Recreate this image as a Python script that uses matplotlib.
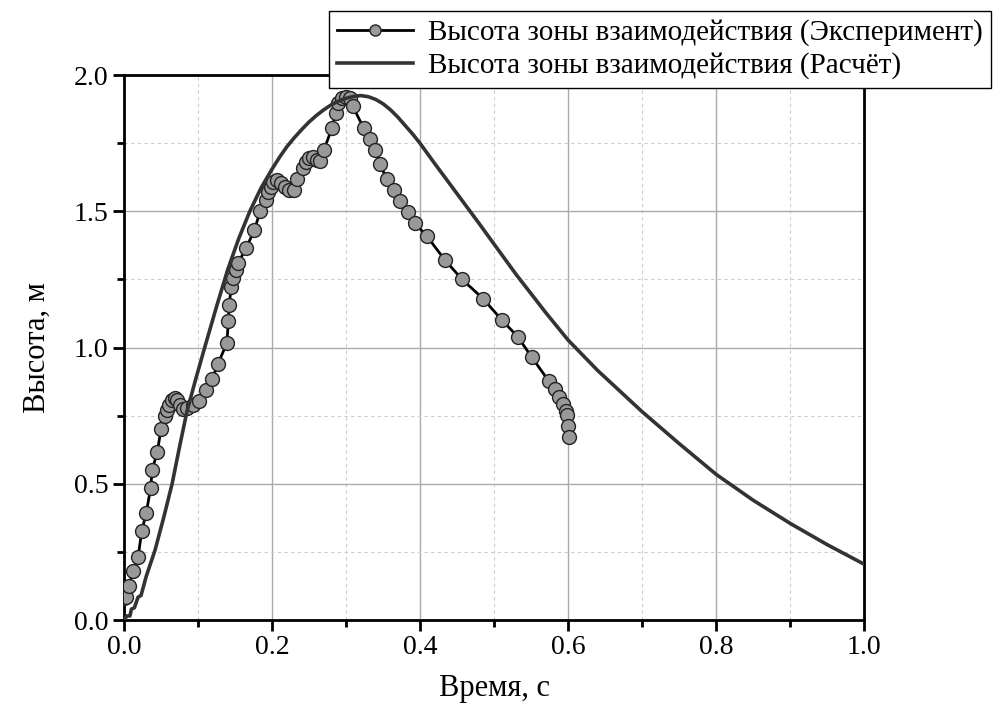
import numpy as np
import matplotlib
matplotlib.use("Agg")
from matplotlib import pyplot as plt
from matplotlib.ticker import MultipleLocator

plt.rcParams['font.family'] = ['Liberation Serif', 'DejaVu Serif']

# experiment: time, height
t_exp = [0.0, 0.003, 0.007, 0.012, 0.019, 0.024, 0.030, 0.036, 0.038, 0.045,
         0.050, 0.055, 0.058, 0.061, 0.065, 0.069, 0.072, 0.076, 0.080, 0.085,
         0.093, 0.101, 0.111, 0.119, 0.127, 0.139, 0.141, 0.142, 0.145, 0.147,
         0.151, 0.154, 0.165, 0.176, 0.184, 0.192, 0.195, 0.199, 0.201, 0.207,
         0.212, 0.218, 0.223, 0.230, 0.234, 0.242, 0.246, 0.250, 0.255, 0.261,
         0.265, 0.270, 0.281, 0.286, 0.289, 0.295, 0.300, 0.305, 0.309, 0.324,
         0.332, 0.339, 0.346, 0.355, 0.365, 0.373, 0.384, 0.393, 0.409, 0.434,
         0.457, 0.485, 0.511, 0.532, 0.551, 0.574, 0.582, 0.588, 0.593, 0.597,
         0.599, 0.600, 0.601]
h_exp = [0.08, 0.084, 0.125, 0.18, 0.23, 0.327, 0.393, 0.484, 0.55, 0.617,
         0.70, 0.749, 0.77, 0.79, 0.807, 0.815, 0.807, 0.79, 0.774, 0.778,
         0.79, 0.804, 0.844, 0.884, 0.94, 1.017, 1.097, 1.156, 1.222, 1.255,
         1.284, 1.31, 1.365, 1.43, 1.50, 1.54, 1.57, 1.59, 1.607, 1.615,
         1.604, 1.59, 1.578, 1.578, 1.618, 1.66, 1.68, 1.695, 1.70, 1.688,
         1.684, 1.725, 1.805, 1.86, 1.897, 1.916, 1.92, 1.916, 1.886, 1.805,
         1.765, 1.725, 1.673, 1.618, 1.578, 1.538, 1.497, 1.457, 1.41, 1.32,
         1.25, 1.18, 1.10, 1.04, 0.965, 0.877, 0.848, 0.818, 0.793, 0.767,
         0.752, 0.712, 0.672]

# calculation
t_calc = [0.0, 0.004, 0.008, 0.010, 0.014, 0.019, 0.023, 0.030, 0.042, 0.054,
          0.065, 0.075, 0.085, 0.097, 0.109, 0.125, 0.14, 0.155, 0.17, 0.185,
          0.2, 0.21, 0.22, 0.23, 0.24, 0.25, 0.26, 0.27, 0.28, 0.29,
          0.30, 0.31, 0.32, 0.33, 0.34, 0.35, 0.36, 0.37, 0.38, 0.39,
          0.40, 0.42, 0.45, 0.48, 0.5, 0.53, 0.57, 0.6, 0.64, 0.7,
          0.75, 0.8, 0.85, 0.9, 0.95, 1.0]
h_calc = [0.0, 0.015, 0.015, 0.04, 0.045, 0.084, 0.09, 0.16, 0.257, 0.38,
          0.50, 0.635, 0.765, 0.885, 1.0, 1.15, 1.285, 1.40, 1.50, 1.585,
          1.655, 1.698, 1.737, 1.77, 1.80, 1.828, 1.852, 1.873, 1.891, 1.905,
          1.915, 1.922, 1.925, 1.921, 1.911, 1.895, 1.873, 1.846, 1.815, 1.784,
          1.75, 1.675, 1.565, 1.455, 1.38, 1.268, 1.128, 1.028, 0.916, 0.765,
          0.648, 0.535, 0.44, 0.355, 0.277, 0.205]

fig = plt.figure(figsize=(9.96, 7.09), dpi=100)
ax = fig.add_axes([0.1245, 0.1255, 0.743, 0.7685])

ax.plot(t_exp, h_exp, color='black', lw=2.0, marker='o', ms=10,
        mfc='#999999', mec='#222222', mew=1.0,
        label='Высота зоны взаимодействия (Эксперимент)', zorder=3)
ax.plot(t_calc, h_calc, color='#333333', lw=2.6,
        label='Высота зоны взаимодействия (Расчёт)', zorder=4)

ax.set_xlim(0, 1.0)
ax.set_ylim(0, 2.0)
ax.xaxis.set_major_locator(MultipleLocator(0.2))
ax.xaxis.set_minor_locator(MultipleLocator(0.1))
ax.yaxis.set_major_locator(MultipleLocator(0.5))
ax.yaxis.set_minor_locator(MultipleLocator(0.25))
ax.xaxis.set_major_formatter(plt.FormatStrFormatter('%.1f'))
ax.yaxis.set_major_formatter(plt.FormatStrFormatter('%.1f'))

ax.grid(which='major', color='#aaaaaa', lw=1.0, ls='-')
ax.grid(which='minor', color='#cccccc', lw=0.8, ls=(0, (3, 3)))
ax.set_axisbelow(True)

ax.tick_params(which='major', direction='out', length=8, width=2, labelsize=20, pad=3)
ax.tick_params(which='minor', direction='out', length=5, width=2)
for s in ax.spines.values():
    s.set_linewidth(2)

ax.set_xlabel('Время, с', fontsize=22, labelpad=10)
ax.set_ylabel('Высота, м', fontsize=22, labelpad=16)

fig.legend(loc='upper left', bbox_to_anchor=(0.330, 0.985), borderaxespad=0,
           fontsize=21, frameon=True, fancybox=False, edgecolor='black',
           framealpha=1, handlelength=2.6, borderpad=0.3, labelspacing=0.2,
           handletextpad=0.5, markerscale=0.8)

fig.savefig('out.png', dpi=100)
